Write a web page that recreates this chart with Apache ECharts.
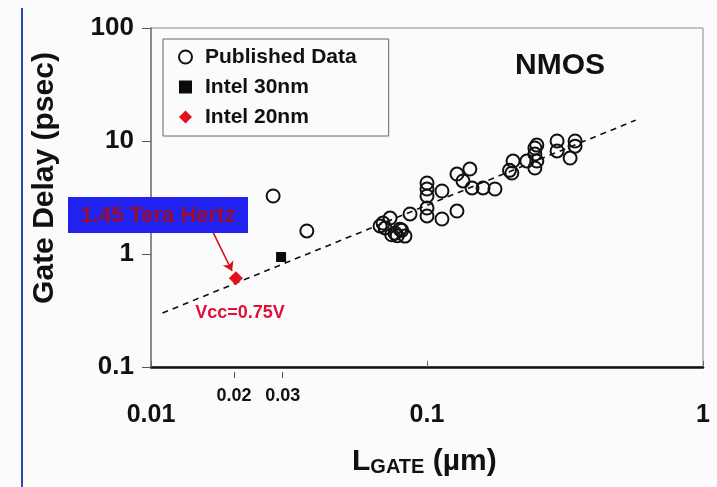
<!DOCTYPE html>
<html>
<head>
<meta charset="utf-8">
<script src="https://cdn.jsdelivr.net/npm/echarts@6/dist/echarts.min.js"></script>
<style>
  html, body { margin: 0; padding: 0; background: #fbfbfb; }
  #chart { width: 717px; height: 487px; }
</style>
</head>
<body>
<div id="chart"></div>
<script>
// gate length (um), gate delay (psec)
var publishedData = [
  [0.0277, 3.26], [0.0367, 1.60],
  [0.0693, 1.88], [0.0676, 1.77], [0.0735, 2.08], [0.0705, 1.70], [0.0798, 1.66],
  [0.0766, 1.53], [0.0832, 1.44], [0.078, 1.45], [0.081, 1.62], [0.0745, 1.48], [0.0868, 2.26],
  [0.100, 4.25], [0.100, 3.76], [0.100, 3.26], [0.100, 2.55], [0.100, 2.17],
  [0.1133, 3.61], [0.1133, 2.04], [0.1284, 2.40], [0.1284, 5.10], [0.143, 5.65],
  [0.135, 4.43], [0.1456, 3.84], [0.1596, 3.84], [0.1763, 3.76],
  [0.205, 6.65], [0.203, 5.21], [0.199, 5.5],
  [0.246, 8.67], [0.246, 7.67], [0.250, 6.65], [0.246, 5.77], [0.230, 6.65], [0.25, 9.2],
  [0.296, 10.0], [0.296, 8.16], [0.330, 7.07], [0.344, 10.0], [0.344, 9.0]
];
var intel30Data = [[0.0296, 0.94]];
var intel20Data = [[0.0203, 0.61]];
var trendData = [[0.011, 0.30], [0.571, 15.3]];
var arrowFrom = [0.01648, 1.70];
var arrowTo = [0.01966, 0.707];
var minorXTicks = [0.02, 0.03];

var FONT = "'Liberation Sans', Arial, sans-serif";

var myChart = echarts.init(document.getElementById("chart"));

var option = {
  backgroundColor: "#fbfbfb",
  animation: false,
  grid: { left: 151, right: 14, top: 28, bottom: 120, show: true, borderColor: "#888", borderWidth: 1, backgroundColor: "transparent" },
  legend: {
    orient: "vertical",
    left: 163,
    top: 39,
    data: ["Published Data", "Intel 30nm", "Intel 20nm"],
    itemWidth: 13,
    itemHeight: 13,
    itemGap: 8,
    padding: [7, 32, 8, 15],
    borderColor: "#666",
    borderWidth: 1,
    textStyle: {
      fontFamily: FONT,
      fontWeight: "bold",
      fontSize: 21,
      lineHeight: 22,
      color: "#111",
      padding: [0, 0, 0, 8]
    }
  },
  xAxis: [
    {
      type: "log",
      logBase: 10,
      min: 0.01,
      max: 1,
      axisLine: { show: true, lineStyle: { color: "#111", width: 2.5 } },
      axisTick: { show: true, inside: true, length: 6, lineStyle: { color: "#666" } },
      axisLabel: { fontFamily: FONT, fontWeight: "bold", fontSize: 25, color: "#111", margin: 36 },
      splitLine: { show: false },
      minorTick: { show: false }
    },
    {
      type: "log",
      logBase: 10,
      min: 0.01,
      max: 1,
      position: "bottom",
      offset: 5,
      axisLine: { show: false },
      axisTick: { show: true, length: 6, customValues: minorXTicks, lineStyle: { color: "#555" } },
      axisLabel: { customValues: minorXTicks, fontFamily: FONT, fontWeight: "bold", fontSize: 18, color: "#111", margin: 15 },
      splitLine: { show: false }
    }
  ],
  yAxis: {
    type: "log",
    logBase: 10,
    min: 0.1,
    max: 100,
    axisLine: { show: true, lineStyle: { color: "#777", width: 1.5 } },
    axisTick: { show: true, length: 9, lineStyle: { color: "#555" } },
    axisLabel: { fontFamily: FONT, fontWeight: "bold", fontSize: 26, color: "#111", margin: 17 },
    splitLine: { show: false }
  },
  series: [
    {
      name: "trend",
      type: "line",
      data: trendData,
      symbol: "none",
      silent: true,
      lineStyle: { color: "#111", width: 1.6, type: [6, 5] },
      z: 1
    },
    {
      name: "Published Data",
      type: "scatter",
      data: publishedData,
      symbol: "circle",
      symbolSize: 13,
      itemStyle: { color: "rgba(255,255,255,0)", borderColor: "#111", borderWidth: 2, opacity: 1 },
      z: 3
    },
    {
      name: "Intel 30nm",
      type: "scatter",
      data: intel30Data,
      symbol: "rect",
      symbolSize: 10,
      itemStyle: { color: "#0a0a0a", opacity: 1 },
      z: 4
    },
    {
      name: "Intel 20nm",
      type: "scatter",
      data: intel20Data,
      symbol: "diamond",
      symbolSize: [14, 14],
      itemStyle: { color: "#e3101c", opacity: 1 },
      z: 4,
      markLine: {
        silent: true,
        symbol: ["none", "arrow"],
        symbolSize: 9,
        label: { show: false },
        lineStyle: { color: "#d8101c", width: 1.6, type: "solid" },
        data: [[{ coord: arrowFrom }, { coord: arrowTo }]]
      }
    }
  ],
  graphic: [
    {
      type: "line",
      shape: { x1: 22, y1: 8, x2: 22, y2: 487 },
      style: { stroke: "#2a48b8", lineWidth: 2 },
      z: 10
    },
    {
      type: "rect",
      shape: { x: 68, y: 197, width: 180, height: 36 },
      style: { fill: "#2121f0" },
      z: 20
    },
    {
      type: "text",
      x: 158, y: 216,
      style: { text: "1.45 Tera Hertz", fill: "#9a0f2c", font: "bold 22px " + FONT, textAlign: "center", textVerticalAlign: "middle" },
      z: 21
    },
    {
      type: "text",
      x: 240, y: 313,
      style: { text: "Vcc=0.75V", fill: "#e0103a", font: "bold 18px " + FONT, textAlign: "center", textVerticalAlign: "middle" },
      z: 21
    },
    {
      type: "text",
      x: 560, y: 66,
      style: { text: "NMOS", fill: "#111", font: "bold 30px " + FONT, textAlign: "center", textVerticalAlign: "middle" },
      z: 21
    },
    {
      type: "text",
      x: 45, y: 178,
      rotation: Math.PI / 2,
      style: { text: "Gate Delay (psec)", fill: "#111", font: "bold 30px " + FONT, textAlign: "center", textVerticalAlign: "middle" },
      z: 21
    },
    {
      type: "text",
      x: 352, y: 477,
      style: {
        text: "{big|L}{small|GATE}{big| (µm)}",
        textVerticalAlign: "bottom",
        rich: {
          big: { font: "bold 30px " + FONT, fill: "#111", verticalAlign: "bottom" },
          small: { font: "bold 20px " + FONT, fill: "#111", verticalAlign: "bottom" }
        }
      },
      z: 21
    }
  ]
};

myChart.setOption(option);
</script>
</body>
</html>
